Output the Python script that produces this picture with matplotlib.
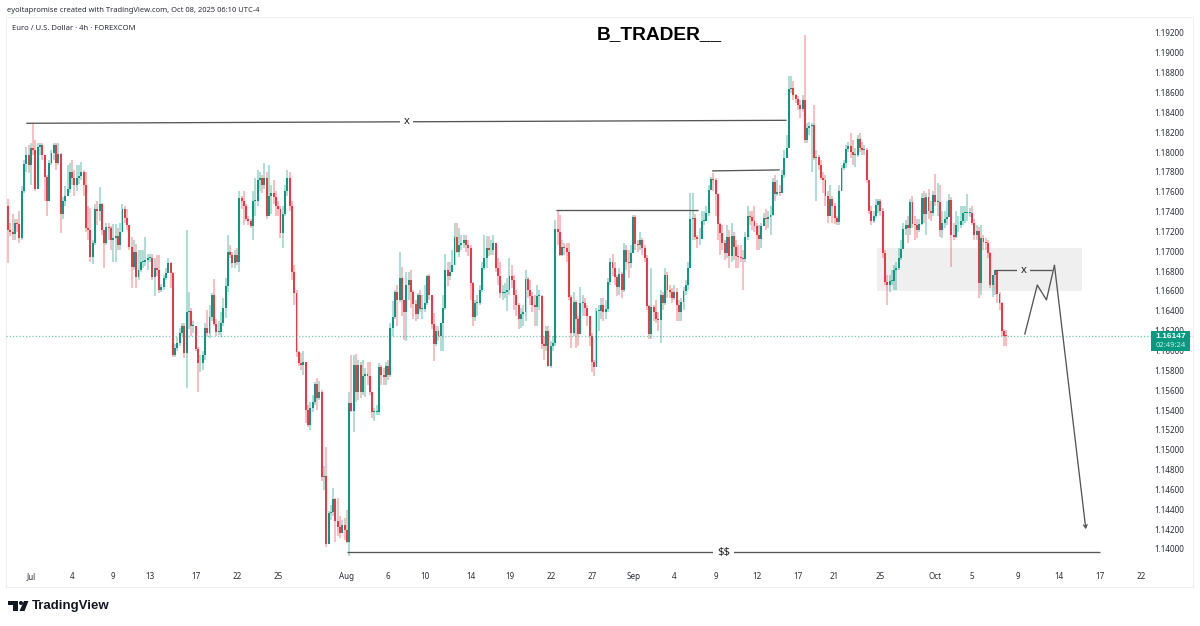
import matplotlib
matplotlib.use('Agg')
import matplotlib.pyplot as plt
import matplotlib.transforms as mtrans
from matplotlib.patches import Polygon, Rectangle, Circle
import numpy as np

plt.rcParams['font.family'] = ['Noto Sans', 'DejaVu Sans']

# EURUSD 4h candles, prices in pips (1.17210 -> 11721)
first_open = 11746

closes_jul = [
    11721, 11719, 11717, 11729, 11727, 11713, 11761, 11788, 11797, 11787,
    11804, 11802, 11763, 11805, 11807, 11797, 11775, 11751, 11789, 11799,
    11807, 11789, 11798, 11738, 11751, 11756, 11763, 11780, 11774, 11767,
    11774, 11776, 11780, 11767, 11723, 11721, 11694, 11708, 11743, 11741,
    11748, 11721, 11708, 11724, 11723, 11711, 11713, 11715, 11706, 11719,
    11743, 11734, 11726, 11704, 11684, 11699, 11674, 11681, 11689, 11689,
    11691, 11693, 11693, 11674, 11683, 11681, 11661, 11664, 11673, 11678,
    11688, 11678, 11595, 11603, 11608, 11618, 11625, 11598, 11639, 11640,
    11625, 11625, 11602, 11587, 11587, 11595, 11623, 11618, 11634, 11656,
    11627, 11619, 11619, 11628, 11643, 11665, 11699, 11696, 11688, 11696,
    11689, 11754, 11751, 11746, 11733, 11731, 11725, 11751, 11751, 11772,
    11774, 11767, 11774, 11736, 11756, 11759, 11755, 11746, 11743, 11718,
    11738, 11761, 11774, 11746, 11679, 11658, 11599, 11587, 11585, 11588,
    11540, 11525, 11542, 11548, 11566, 11552, 11558, 11473, 11474, 11405,
    11436, 11437, 11450, 11428, 11422, 11416, 11424, 11419, 11407,
]
highs_jul = [
    11753, 11729, 11738, 11733, 11733, 11741, 11766, 11792, 11805, 11807,
    11809, 11829, 11812, 11809, 11809, 11809, 11797, 11777, 11792, 11802,
    11809, 11809, 11809, 11799, 11755, 11766, 11787, 11789, 11792, 11782,
    11787, 11787, 11790, 11782, 11780, 11746, 11744, 11711, 11748, 11751,
    11765, 11749, 11721, 11729, 11729, 11725, 11728, 11727, 11723, 11729,
    11748, 11746, 11743, 11726, 11714, 11711, 11707, 11701, 11701, 11701,
    11714, 11697, 11697, 11697, 11693, 11696, 11696, 11667, 11676, 11683,
    11693, 11689, 11679, 11607, 11614, 11623, 11628, 11628, 11721, 11659,
    11643, 11630, 11625, 11604, 11595, 11600, 11628, 11641, 11646, 11658,
    11672, 11632, 11630, 11639, 11653, 11673, 11716, 11706, 11699, 11701,
    11703, 11761, 11756, 11761, 11748, 11736, 11733, 11761, 11774, 11782,
    11780, 11777, 11789, 11780, 11787, 11767, 11772, 11761, 11751, 11746,
    11746, 11767, 11782, 11780, 11751, 11686, 11661, 11600, 11598, 11600,
    11570, 11545, 11548, 11555, 11568, 11572, 11569, 11560, 11484, 11503,
    11438, 11444, 11461, 11451, 11451, 11433, 11429, 11431, 11439,
]
lows_jul = [
    11688, 11715, 11711, 11711, 11719, 11708, 11711, 11759, 11780, 11779,
    11767, 11797, 11761, 11767, 11797, 11792, 11751, 11736, 11754, 11787,
    11792, 11782, 11787, 11718, 11733, 11746, 11756, 11759, 11767, 11756,
    11761, 11768, 11772, 11756, 11719, 11711, 11689, 11687, 11706, 11726,
    11731, 11716, 11683, 11706, 11711, 11701, 11689, 11689, 11701, 11701,
    11719, 11729, 11721, 11701, 11663, 11681, 11663, 11671, 11679, 11683,
    11685, 11681, 11689, 11671, 11655, 11675, 11658, 11659, 11661, 11671,
    11681, 11663, 11593, 11593, 11600, 11605, 11615, 11592, 11562, 11622,
    11615, 11618, 11600, 11558, 11578, 11580, 11590, 11614, 11613, 11630,
    11625, 11615, 11616, 11614, 11625, 11633, 11659, 11693, 11683, 11683,
    11686, 11679, 11743, 11726, 11731, 11726, 11723, 11711, 11736, 11746,
    11761, 11759, 11763, 11733, 11736, 11738, 11748, 11736, 11736, 11713,
    11703, 11736, 11756, 11741, 11671, 11646, 11593, 11584, 11580, 11575,
    11527, 11523, 11520, 11538, 11545, 11540, 11550, 11469, 11459, 11402,
    11407, 11429, 11433, 11407, 11413, 11411, 11416, 11409, 11406,
]

closes_aug = [
    11547, 11539, 11585, 11558, 11585, 11558, 11574, 11576, 11574, 11558,
    11538, 11538, 11538, 11583, 11575, 11573, 11584, 11575, 11623, 11634,
    11659, 11651, 11673, 11651, 11639, 11666, 11671, 11659, 11647, 11637,
    11656, 11642, 11642, 11648, 11675, 11656, 11627, 11607, 11620, 11615,
    11628, 11643, 11681, 11675, 11679, 11686, 11714, 11699, 11706, 11708,
    11711, 11706, 11703, 11668, 11634, 11648, 11648, 11661, 11683, 11693,
    11703, 11701, 11701, 11708, 11683, 11675, 11658, 11658, 11659, 11661,
    11675, 11671, 11656, 11646, 11632, 11637, 11639, 11672, 11661, 11655,
    11646, 11644, 11655, 11655, 11607, 11605, 11620, 11584, 11605, 11608,
    11722, 11719, 11696, 11704, 11703, 11699, 11654, 11618, 11649, 11632,
    11617, 11648, 11648, 11643, 11635, 11615, 11588, 11583, 11640, 11640,
    11646, 11639, 11642, 11669, 11689, 11683, 11674, 11664, 11677, 11661,
    11701, 11689, 11688, 11698,
]
highs_aug = [
    11558, 11595, 11595, 11597, 11590, 11588, 11590, 11582, 11588, 11588,
    11555, 11542, 11545, 11587, 11585, 11582, 11588, 11590, 11628, 11650,
    11661, 11666, 11699, 11684, 11651, 11679, 11679, 11681, 11661, 11651,
    11658, 11661, 11656, 11666, 11676, 11677, 11656, 11638, 11625, 11625,
    11628, 11656, 11697, 11689, 11689, 11701, 11729, 11729, 11723, 11716,
    11716, 11716, 11711, 11706, 11669, 11651, 11656, 11666, 11689, 11716,
    11715, 11715, 11711, 11716, 11708, 11693, 11689, 11666, 11668, 11673,
    11693, 11686, 11676, 11661, 11648, 11643, 11646, 11681, 11674, 11671,
    11659, 11656, 11666, 11661, 11656, 11615, 11625, 11625, 11610, 11615,
    11732, 11742, 11737, 11711, 11708, 11708, 11708, 11656, 11659, 11651,
    11635, 11664, 11656, 11653, 11646, 11635, 11618, 11590, 11643, 11646,
    11653, 11653, 11651, 11673, 11693, 11697, 11689, 11676, 11683, 11679,
    11708, 11706, 11701, 11706,
]
lows_aug = [
    11393, 11538, 11518, 11548, 11550, 11552, 11555, 11553, 11565, 11555,
    11532, 11529, 11535, 11535, 11565, 11565, 11565, 11570, 11573, 11615,
    11632, 11625, 11649, 11635, 11611, 11610, 11651, 11643, 11632, 11630,
    11632, 11639, 11632, 11639, 11646, 11651, 11622, 11589, 11605, 11610,
    11600, 11600, 11641, 11665, 11671, 11679, 11686, 11698, 11694, 11701,
    11703, 11699, 11695, 11651, 11625, 11630, 11635, 11646, 11659, 11681,
    11683, 11695, 11696, 11696, 11679, 11666, 11653, 11651, 11653, 11640,
    11656, 11663, 11641, 11635, 11622, 11623, 11625, 11630, 11653, 11646,
    11639, 11625, 11625, 11641, 11602, 11590, 11600, 11583, 11582, 11600,
    11605, 11706, 11695, 11695, 11696, 11689, 11651, 11603, 11615, 11603,
    11605, 11630, 11635, 11635, 11625, 11605, 11578, 11574, 11583, 11620,
    11632, 11630, 11632, 11639, 11666, 11675, 11666, 11655, 11656, 11653,
    11659, 11681, 11673, 11683,
]

closes_sep = [
    11735, 11707, 11706, 11711, 11703, 11693, 11645, 11617, 11644, 11639,
    11632, 11631, 11656, 11648, 11676, 11661, 11659, 11653, 11659, 11646,
    11639, 11649, 11660, 11666, 11683, 11733, 11734, 11714, 11712, 11712,
    11731, 11731, 11739, 11762, 11773, 11772, 11758, 11728, 11718, 11708,
    11698, 11714, 11695, 11715, 11704, 11695, 11694, 11693, 11692, 11714,
    11736, 11735, 11731, 11725, 11716, 11712, 11725, 11734, 11733, 11735,
    11737, 11770, 11758, 11760, 11759, 11777, 11794, 11804, 11864, 11865,
    11857, 11853, 11847, 11843, 11852, 11812, 11824, 11826, 11827, 11794,
    11795, 11787, 11774, 11772, 11756, 11736, 11753, 11746, 11734, 11730,
    11761, 11784, 11789, 11803, 11806, 11800, 11797, 11797, 11813, 11804,
    11802, 11802, 11772, 11741, 11731, 11736, 11747, 11751, 11741, 11698,
    11669, 11666, 11670, 11670, 11681, 11683, 11693, 11702, 11722, 11726,
    11723, 11750, 11728, 11726, 11721, 11728, 11754, 11738, 11755, 11741,
    11739, 11757,
]
highs_sep = [
    11737, 11737, 11711, 11719, 11713, 11706, 11696, 11646, 11683, 11646,
    11651, 11639, 11661, 11659, 11683, 11679, 11666, 11663, 11666, 11663,
    11651, 11653, 11664, 11671, 11689, 11759, 11759, 11738, 11716, 11723,
    11741, 11741, 11746, 11767, 11775, 11779, 11774, 11759, 11729, 11726,
    11711, 11726, 11721, 11729, 11719, 11711, 11706, 11706, 11701, 11719,
    11746, 11741, 11741, 11746, 11729, 11726, 11729, 11739, 11743, 11741,
    11746, 11774, 11777, 11772, 11767, 11782, 11802, 11817, 11877, 11877,
    11872, 11859, 11856, 11852, 11857, 11918, 11829, 11830, 11829, 11847,
    11802, 11797, 11792, 11780, 11777, 11761, 11767, 11756, 11749, 11736,
    11767, 11787, 11792, 11807, 11810, 11819, 11812, 11804, 11817, 11819,
    11810, 11807, 11804, 11772, 11746, 11741, 11753, 11753, 11753, 11744,
    11701, 11676, 11676, 11681, 11686, 11689, 11703, 11711, 11729, 11732,
    11736, 11753, 11756, 11736, 11733, 11733, 11759, 11761, 11759, 11763,
    11751, 11761,
]
lows_sep = [
    11703, 11701, 11699, 11701, 11696, 11689, 11641, 11612, 11612, 11630,
    11628, 11620, 11608, 11641, 11646, 11653, 11653, 11648, 11651, 11630,
    11630, 11630, 11641, 11656, 11661, 11683, 11711, 11711, 11703, 11706,
    11716, 11726, 11733, 11736, 11767, 11761, 11736, 11711, 11696, 11701,
    11691, 11693, 11683, 11689, 11691, 11683, 11683, 11689, 11661, 11689,
    11711, 11726, 11721, 11719, 11701, 11701, 11703, 11726, 11721, 11723,
    11716, 11736, 11751, 11756, 11756, 11761, 11774, 11797, 11804, 11860,
    11852, 11849, 11842, 11834, 11840, 11809, 11809, 11817, 11780, 11792,
    11751, 11782, 11772, 11759, 11746, 11729, 11736, 11729, 11728, 11726,
    11726, 11761, 11782, 11784, 11800, 11794, 11787, 11785, 11795, 11800,
    11797, 11797, 11769, 11738, 11726, 11729, 11734, 11739, 11736, 11693,
    11666, 11646, 11659, 11666, 11661, 11661, 11681, 11691, 11703, 11716,
    11708, 11716, 11723, 11711, 11713, 11719, 11726, 11729, 11716, 11733,
    11731, 11736,
]

closes_oct = [
    11750, 11750, 11721, 11729, 11733, 11735, 11752, 11716, 11714, 11726,
    11726, 11731, 11739, 11739, 11739, 11739, 11729, 11716, 11720, 11668,
    11713, 11709, 11708, 11698, 11666, 11676, 11681, 11657, 11648, 11620,
    11615, 11614.7,
]
highs_oct = [
    11778, 11769, 11767, 11741, 11741, 11751, 11758, 11755, 11729, 11741,
    11736, 11746, 11746, 11746, 11758, 11744, 11746, 11733, 11726, 11724,
    11726, 11716, 11713, 11711, 11699, 11676, 11681, 11679, 11659, 11649,
    11622, 11621,
]
lows_oct = [
    11746, 11736, 11714, 11713, 11723, 11726, 11736, 11684, 11711, 11713,
    11719, 11723, 11726, 11729, 11731, 11735, 11726, 11711, 11711, 11653,
    11656, 11701, 11701, 11693, 11663, 11654, 11656, 11648, 11641, 11615,
    11605, 11605,
]

price_ticks = [1.14 + 0.002 * i for i in range(27)]
date_labels = ['Jul', '4', '9', '13', '17', '22', '25', 'Aug', '6', '10', '14', '19', '22', '27',
               'Sep', '4', '9', '12', '17', '21', '25', 'Oct', '5', '9', '14', '17', '22']
date_bars = [10, 28, 46, 62, 82, 100, 118, 148, 166, 182, 202, 219, 237, 255,
             273, 291, 309, 327, 345, 361, 381, 405, 421, 441, 459, 477, 495]

# drawings: (bar, price)
x_line_left = [(8, 1.1829), (340, 1.1832)]
hl_sep = [(239.5, 1.1742), (301.5, 1.1742)]
hl_mid = [(307.5, 1.1781), (337, 1.1782)]
x_line_right = [(431, 1.1681), (456, 1.1681)]
target_line = [(148, 1.13965), (477, 1.13965)]
zigzag = [(444, 1.1616), (449.5, 1.1666), (453.5, 1.1651), (457, 1.1686)]
arrow_tip = (470.7, 1.1420)
zone_bars = (379.5, 469)
zone_prices = (1.1660, 1.1703)

last_price = 1.16147
countdown = '02:49:24'

GREEN = '#089981'
RED = '#F23645'
DRAW = '#555555'
TEXT = '#2a2e39'
ZONE = '#efefef'

closes = np.array(closes_jul + closes_aug + closes_sep + closes_oct) / 1e4
highs = np.array(highs_jul + highs_aug + highs_sep + highs_oct) / 1e4
lows = np.array(lows_jul + lows_aug + lows_sep + lows_oct) / 1e4
opens = np.concatenate([[first_open / 1e4], closes[:-1]])
highs = np.maximum(highs, np.maximum(opens, closes))
lows = np.minimum(lows, np.minimum(opens, closes))
bars = np.arange(len(closes))

fig = plt.figure(figsize=(12, 6.26), dpi=100)
ax = fig.add_axes([6 / 1200, 1 - 587 / 626, 1187 / 1200, 570 / 626])
ax.set_xlim(-0.87, 517.5)
ax.set_ylim(1.13617, 1.19361)

# pixel coordinates for header, footer and the price tag
px = mtrans.Affine2D().scale(1 / 1200, -1 / 626).translate(0, 1) + fig.transFigure

ax.add_patch(Rectangle((zone_bars[0], zone_prices[0]), zone_bars[1] - zone_bars[0],
                       zone_prices[1] - zone_prices[0], fc=ZONE, ec='none', zorder=1))

up = closes >= opens
colors = np.where(up, GREEN, RED)
ax.vlines(bars, lows, highs, colors=colors, lw=1.1, alpha=0.42, zorder=2)
ax.bar(bars, np.maximum(np.abs(closes - opens), 0.00008), bottom=np.minimum(opens, closes),
       width=0.85, color=colors, lw=0, zorder=3)

ax.axhline(last_price, color=GREEN, lw=0.9, ls=(0, (1, 1.6)), alpha=0.55, zorder=4)

for line in [x_line_left, hl_sep, hl_mid, x_line_right, target_line, zigzag]:
    xs, ys = zip(*line)
    ax.plot(xs, ys, color=DRAW, lw=0.95, zorder=5, solid_capstyle='butt')

ax.annotate('', xy=arrow_tip, xytext=zigzag[-1], zorder=5,
            arrowprops=dict(arrowstyle='->,head_length=0.22,head_width=0.13', color=DRAW,
                            lw=0.95, shrinkA=0, shrinkB=0))

for label, line, back in [('x', x_line_left, 'white'), ('x', x_line_right, ZONE), ('$$', target_line, 'white')]:
    xm = (line[0][0] + line[1][0]) / 2
    ym = (line[0][1] + line[1][1]) / 2
    ax.text(xm, ym, label, ha='center', va='center', fontsize=8, color='#222222', zorder=6,
            parse_math=False, bbox=dict(fc=back, ec='none', pad=2.6))

ax.yaxis.tick_right()
ax.set_yticks(price_ticks)
ax.set_yticklabels(['%.5f' % p for p in price_ticks])
ax.tick_params(axis='y', length=0, pad=-6.5, labelsize=5.8, labelcolor=TEXT)
for lab in ax.get_yticklabels():
    lab.set_ha('right')
ax.set_xticks(date_bars)
ax.set_xticklabels(date_labels)
ax.tick_params(axis='x', length=0, pad=-10.5, labelsize=5.8, labelcolor=TEXT)
for spine in ax.spines.values():
    spine.set_color('#eeeeee')
    spine.set_linewidth(0.8)

fig.text(7, 10.5, 'eyoltapromise created with TradingView.com, Oct 08, 2025 06:10 UTC-4',
         transform=px, fontsize=5.45, color=TEXT, va='center')
fig.text(12, 28.5, 'Euro / U.S. Dollar · 4h · FOREXCOM', transform=px, fontsize=5.5,
         color=TEXT, va='center')
fig.text(659, 35, 'B_TRADER__', transform=px, fontsize=13.8, color='black', ha='center',
         va='center', fontweight='bold', family='Liberation Sans')

# last price tag
fig.add_artist(Rectangle((1151, 330.5), 39, 20, transform=px, fc=GREEN, ec='none', zorder=10))
fig.text(1170.5, 336.5, '%.5f' % last_price, transform=px, fontsize=6, color='white', ha='center',
         va='center', fontweight='bold', family='Liberation Sans', zorder=11)
fig.text(1170.5, 345.5, countdown, transform=px, fontsize=5.5, color='#c8ece5', ha='center',
         va='center', zorder=11)

# TradingView logo
fig.add_artist(Polygon([(8, 601), (18, 601), (18, 611), (13, 611), (13, 605), (8, 605)],
                       transform=px, fc='#131722', ec='none'))
fig.add_artist(Circle((21, 603), 2, transform=px, fc='#131722', ec='none'))
fig.add_artist(Polygon([(24, 601), (28.5, 601), (24.5, 611), (19.5, 611)],
                       transform=px, fc='#131722', ec='none'))
fig.text(32, 606, 'TradingView', transform=px, fontsize=9.55, color='#131722', va='center',
         fontweight='bold', family='Liberation Sans')

fig.savefig('out.png', dpi=100, facecolor='white')
